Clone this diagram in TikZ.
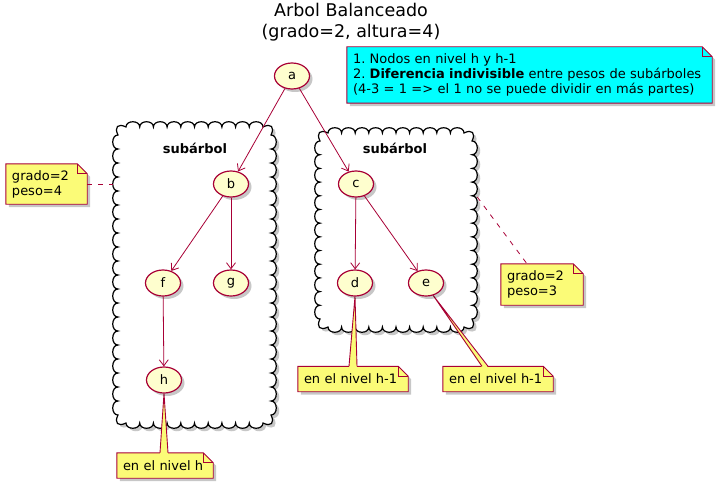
\documentclass[tikz,border=0pt]{standalone}
\usepackage{fontspec}
\setmainfont{DejaVu Sans}
\usetikzlibrary{arrows.meta,shapes.geometric,shadows,backgrounds,calc}
\definecolor{umlred}{HTML}{A80036}
\definecolor{nodefill}{HTML}{FEFECE}
\definecolor{notefill}{HTML}{FBFB77}
\definecolor{cyannote}{HTML}{00FFFF}
\frenchspacing

% note outline with folded corner, drawn behind the text node #1
\newcommand\notebg[2]{%
  \fill[black!22, transform canvas={shift={(3pt,-3pt)}}] (#1.north west) -- ([xshift=-10pt]#1.north east) -- ([yshift=-10pt]#1.north east) -- (#1.south east) -- (#1.south west) -- cycle;
  \filldraw[draw=umlred, fill=#2, line width=0.9pt] (#1.north west) -- ([xshift=-10pt]#1.north east) -- ([yshift=-10pt]#1.north east) -- (#1.south east) -- (#1.south west) -- cycle;
  \draw[umlred, line width=0.9pt] ([xshift=-10pt]#1.north east) |- ([yshift=-10pt]#1.north east);
}
% yellow wedge from node #1 to note #2, base between offsets #3 and #4
\newcommand\notewedge[4]{%
  \fill[notefill] (#1) -- ([xshift=#3,yshift=-1pt]#2.north) -- ([xshift=#4,yshift=-1pt]#2.north) -- cycle;
  \draw[umlred, line width=0.9pt] ([xshift=#3]#2.north) -- (#1) -- ([xshift=#4]#2.north);
}
% scalloped box #1 between (#2,#3) and (#4,#5)
\newcommand\subcloud[5]{%
  \pgfmathtruncatemacro\nh{round((#4-#2-16)/14)}%
  \pgfmathsetmacro\sh{(#4-#2-16)/\nh}%
  \pgfmathtruncatemacro\nv{round((#5-#3-16)/14)}%
  \pgfmathsetmacro\sv{(#5-#3-16)/\nv}%
  \filldraw[subtree] (#2+8,#3)
    \foreach \i in {1,...,\nh}{ .. controls +(0,-7) and +(0,-7) .. ++(\sh,0)}
    .. controls +(8,-4) and +(4,-8) .. ++(8,8)
    \foreach \i in {1,...,\nv}{ .. controls +(7,0) and +(7,0) .. ++(0,\sv)}
    .. controls +(4,8) and +(8,4) .. ++(-8,8)
    \foreach \i in {1,...,\nh}{ .. controls +(0,7) and +(0,7) .. ++(-\sh,0)}
    .. controls +(-8,4) and +(-4,8) .. ++(-8,-8)
    \foreach \i in {1,...,\nv}{ .. controls +(-7,0) and +(-7,0) .. ++(0,-\sv)}
    .. controls +(-4,-8) and +(-8,-4) .. ++(8,-8) -- cycle;
  \node[inner sep=0pt, minimum width=#4-#2, minimum height=#5-#3] (#1) at ({(#2+#4)/2},{(#3+#5)/2}) {};
}

\begin{document}
\begin{tikzpicture}[x=1pt,y=-1pt,
    usecase/.style={ellipse, draw=umlred, line width=1.2pt, fill=nodefill, minimum width=35pt, minimum height=26pt, inner sep=0pt, font=\fontsize{13}{15}\selectfont, drop shadow={shadow xshift=3pt, shadow yshift=-3pt, opacity=0.22, fill=black}},
    edge/.style={draw=umlred, line width=0.8pt, -{Straight Barb[length=6pt,width=9pt]}},
    note/.style={font=\fontsize{13}{15}\selectfont, align=left, inner xsep=6pt, inner ysep=0pt},
    notelink/.style={draw=umlred, line width=0.8pt, dash pattern=on 5pt off 6pt},
    subtree/.style={draw=black, line width=1.2pt, fill=white, preaction={fill=black!22, transform canvas={shift={(3pt,-3pt)}}}},
    sublabel/.style={font=\fontsize{13}{15}\selectfont\bfseries}]
  \useasboundingbox (0,0) rectangle (717,484);

  \node[font=\fontsize{17.5}{20.5}\selectfont, align=center] (title) at (351,22) {Arbol Balanceado\\(grado=2, altura=4)};

  % nodos del arbol
  \node[usecase] (a) at (292,76) {a};
  \node[usecase] (b) at (231,184) {b};
  \node[usecase] (c) at (356,184) {c};
  \node[usecase] (f) at (163,283) {f};
  \node[usecase] (g) at (231,283) {g};
  \node[usecase] (d) at (355,283) {d};
  \node[usecase] (e) at (426,283) {e};
  \node[usecase] (h) at (164,380) {h};

  \draw[edge] (a) -- (b);
  \draw[edge] (a) -- (c);
  \draw[edge] (b) -- (f);
  \draw[edge] (b) -- (g);
  \draw[edge] (c) -- (d);
  \draw[edge] (c) -- (e);
  \draw[edge] (f) -- (h);

  % notas
  \node[note, text width=353pt, minimum height=56pt] (nc) at (529.5,75) {1. Nodos en nivel h y h-1\\2. \textbf{Diferencia indivisible} entre pesos de subárboles\\(4-3 = 1 => el 1 no se puede dividir en más partes)};
  \node[note, text width=69pt, minimum height=40pt] (nl) at (46.5,184) {grado=2\\peso=4};
  \node[note, text width=70pt, minimum height=41pt] (nr) at (542,284.5) {grado=2\\peso=3};
  \node[note, text width=98pt, minimum height=25pt] (nd) at (353,379) {en el nivel h-1};
  \node[note, text width=98pt, minimum height=25pt] (ne) at (498,379) {en el nivel h-1};
  \node[note, text width=84pt, minimum height=25pt] (nh) at (165,465.5) {en el nivel h};

  \begin{pgfonlayer}{background}
    \subcloud{lcloud}{118}{127}{271}{423}
    \subcloud{rcloud}{320}{133}{472}{327}
    \node[sublabel] (llab) at (195,148) {subárbol};
    \node[sublabel] (rlab) at (395,148) {subárbol};

    \notebg{nc}{cyannote}
    \notebg{nl}{notefill}
    \notebg{nr}{notefill}
    \notebg{nd}{notefill}
    \notebg{ne}{notefill}
    \notebg{nh}{notefill}

    \notewedge{d.south}{nd}{-4pt}{4pt}
    \notewedge{e.-60}{ne}{-16pt}{-10pt}
    \notewedge{h.south}{nh}{-5pt}{3pt}

    \draw[notelink] (nl.east) -- ([xshift=-5pt]nl.east -| lcloud.west);
    \draw[notelink] ($(rcloud.east)+(5,-33)$) -- ([xshift=-15pt]nr.north);
  \end{pgfonlayer}
\end{tikzpicture}
\end{document}
